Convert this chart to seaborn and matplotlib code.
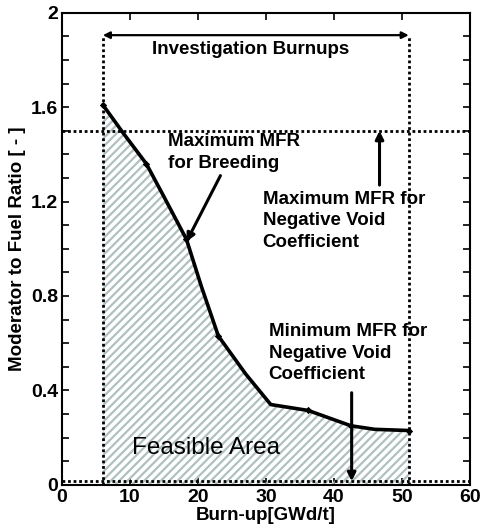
import numpy as np
import pandas as pd
import matplotlib
matplotlib.use("Agg")
import matplotlib.pyplot as plt
import seaborn as sns

# Maximum MFR for breeding curve
burnup = [6, 9, 12.4, 15, 18.3, 20.5, 23, 27, 30.7, 36.2, 42.5, 46, 51]
mfr = [1.61, 1.49, 1.36, 1.22, 1.04, 0.84, 0.63, 0.47, 0.34, 0.315, 0.25, 0.235, 0.23]
marker_idx = [0, 2, 4, 6, 9, 10, 12]

burnup_min, burnup_max = 6, 51
mfr_void_max = 1.5
mfr_void_min = 0.015
bracket_y = 1.905

sns.set_style("ticks", {"text.color": "black", "axes.labelcolor": "black",
                        "xtick.color": "black", "ytick.color": "black",
                        "axes.edgecolor": "black"})
plt.rcParams["font.family"] = ["Liberation Sans", "DejaVu Sans"]
plt.rcParams["font.weight"] = "bold"
plt.rcParams["hatch.linewidth"] = 1.6
plt.rcParams["hatch.color"] = "#b0c0c0"

fig = plt.figure(figsize=(4.81, 5.31), dpi=100)
ax = fig.add_axes([0.129, 0.087, 0.848, 0.889])

df = pd.DataFrame({"burnup": burnup, "mfr": mfr})

# feasible area
ax.fill_between(df["burnup"], 0, df["mfr"], facecolor="none", hatch="////",
                edgecolor="#b0c0c0", linewidth=0)

sns.lineplot(data=df, x="burnup", y="mfr", ax=ax, color="black", linewidth=2.6)
sns.scatterplot(data=df.iloc[marker_idx], x="burnup", y="mfr", ax=ax,
                color="black", s=14, marker="D", linewidth=0)

dot = dict(color="black", linestyle=(0, (1, 1)), linewidth=2)
ax.plot([burnup_min, burnup_min], [0, bracket_y], **dot)
ax.plot([burnup_max, burnup_max], [0, bracket_y], **dot)
ax.axhline(mfr_void_max, **dot)
ax.axhline(mfr_void_min, **dot)

fs = 13.5
ls = 1.35
ax.annotate("", xy=(burnup_min, bracket_y), xytext=(burnup_max, bracket_y),
            arrowprops=dict(arrowstyle="<|-|>", color="black", lw=1.6,
                            mutation_scale=10, shrinkA=0, shrinkB=0))
ax.text(27.8, 1.843, "Investigation Burnups", fontsize=fs, ha="center", va="center")

ax.annotate("", xy=(18.3, 1.03), xytext=(23.3, 1.31),
            arrowprops=dict(arrowstyle="-|>", color="black", lw=2.2,
                            mutation_scale=12, shrinkA=0, shrinkB=0))
ax.text(15.6, 1.49, "Maximum MFR\nfor Breeding", fontsize=fs, ha="left", va="top",
        linespacing=ls)

ax.annotate("", xy=(46.7, mfr_void_max), xytext=(46.7, 1.27),
            arrowprops=dict(arrowstyle="-|>", color="black", lw=2.2,
                            mutation_scale=12, shrinkA=0, shrinkB=0))
ax.text(29.5, 1.245, "Maximum MFR for\nNegative Void\nCoefficient", fontsize=fs,
        ha="left", va="top", linespacing=ls)

ax.annotate("", xy=(42.6, mfr_void_min), xytext=(42.6, 0.39),
            arrowprops=dict(arrowstyle="-|>", color="black", lw=2.2,
                            mutation_scale=12, shrinkA=0, shrinkB=0))
ax.text(30.4, 0.685, "Minimum MFR for\nNegative Void\nCoefficient", fontsize=fs,
        ha="left", va="top", linespacing=ls)

ax.text(10.3, 0.155, "Feasible Area", fontsize=17.5, ha="left", va="center",
        fontweight="normal")

ax.set_xlim(0, 60)
ax.set_ylim(0, 2)
ax.set_xticks(range(0, 61, 10))
ax.set_yticks([0, 0.4, 0.8, 1.2, 1.6, 2])
ax.set_yticklabels(["0", "0.4", "0.8", "1.2", "1.6", "2"])
ax.set_yticks(np.arange(0, 2.01, 0.1), minor=True)
ax.tick_params(direction="in", top=True, right=True, labelsize=14, width=1.2, length=5,
               pad=3)
ax.tick_params(which="minor", direction="in", right=True, left=True, width=1.2, length=5)
for s in ax.spines.values():
    s.set_linewidth(1.5)
for lab in ax.get_xticklabels() + ax.get_yticklabels():
    lab.set_fontweight("bold")

ax.set_xlabel("Burn-up[GWd/t]", fontsize=13.5, fontweight="bold", labelpad=1)
ax.set_ylabel("Moderator to Fuel Ratio [ - ]", fontsize=13.5, fontweight="bold", labelpad=3)

fig.savefig("out.png", dpi=100)
